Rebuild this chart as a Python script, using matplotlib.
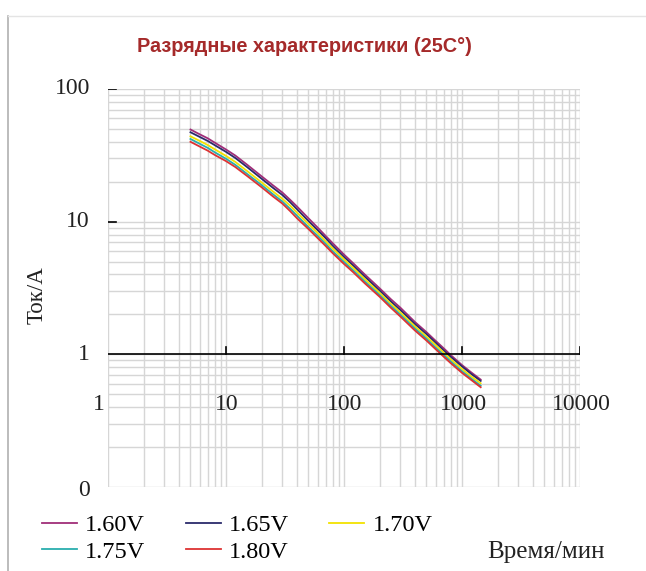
import matplotlib
matplotlib.use("Agg")
from matplotlib import pyplot as plt
from matplotlib.lines import Line2D

# discharge time, min
time_min = [5, 6, 7, 8, 10, 12, 15, 20, 25, 30, 35, 40, 50, 60, 70, 80,
            100, 120, 150, 200, 250, 300, 400, 500, 600, 700, 800, 1000, 1200, 1440]

# current, A (end voltage series)
cur_160 = [49.5, 45.5, 42.5, 39.5, 35.0, 31.5, 27.0, 22.0, 18.8, 16.6, 14.6, 13.0, 10.6, 9.0, 7.8, 6.9,
           5.65, 4.85, 4.0, 3.15, 2.6, 2.25, 1.75, 1.47, 1.26, 1.11, 0.99, 0.83, 0.73, 0.645]
cur_165 = [47.2, 43.5, 40.6, 37.8, 33.6, 30.2, 25.9, 21.1, 18.0, 15.9, 14.0, 12.4, 10.1, 8.6, 7.5, 6.6,
           5.42, 4.66, 3.85, 3.03, 2.5, 2.16, 1.69, 1.42, 1.22, 1.07, 0.96, 0.81, 0.71, 0.63]
cur_170 = [44.0, 40.6, 37.8, 35.2, 31.3, 28.2, 24.2, 19.8, 16.9, 14.9, 13.2, 11.7, 9.6, 8.2, 7.1, 6.3,
           5.2, 4.47, 3.69, 2.91, 2.4, 2.07, 1.62, 1.36, 1.17, 1.03, 0.92, 0.775, 0.68, 0.605]
cur_175 = [42.0, 38.6, 36.0, 33.4, 29.8, 26.8, 23.0, 18.9, 16.1, 14.2, 12.5, 11.1, 9.1, 7.8, 6.8, 6.0,
           4.97, 4.28, 3.54, 2.8, 2.31, 1.99, 1.56, 1.31, 1.12, 0.99, 0.885, 0.745, 0.655, 0.58]
cur_180 = [40.0, 36.8, 34.3, 31.9, 28.6, 25.8, 22.2, 18.2, 15.5, 13.7, 12.0, 10.6, 8.8, 7.5, 6.55, 5.8,
           4.8, 4.15, 3.43, 2.72, 2.24, 1.93, 1.51, 1.27, 1.09, 0.96, 0.86, 0.725, 0.64, 0.565]

series = [("1.60V", cur_160, "#a02e78"),
          ("1.65V", cur_165, "#2b2b6b"),
          ("1.70V", cur_170, "#f2e200"),
          ("1.75V", cur_175, "#2aaeae"),
          ("1.80V", cur_180, "#dd3333")]

x_ticks = [1, 10, 100, 1000, 10000]
x_tick_labels = ["1", "10", "100", "1000", "10000"]
y_ticks = [100, 10, 1, 0.1]
y_tick_labels = ["100", "10", "1", "0"]

serif = "Liberation Serif"

fig = plt.figure(figsize=(6.46, 5.71), dpi=100)
ax = fig.add_axes([108 / 646, 1 - 487 / 571, 472 / 646, 398 / 571])
ax.set_xscale("log")
ax.set_yscale("log")
ax.set_xlim(1, 10000)
ax.set_ylim(0.1, 100)
ax.grid(True, which="both", color="#d6d6d6", lw=1.0)
ax.set_axisbelow(True)
for s in ax.spines.values():
    s.set_visible(False)
ax.tick_params(which="both", length=0, labelleft=False, labelbottom=False)

handles = {}
for name, vals, col in series:
    handles[name], = ax.plot(time_min, vals, color=col, lw=1.3, label=name)

# x axis drawn at 1 A
ax.axhline(1, color="black", lw=1.2)
for xt in x_ticks[1:]:
    ax.plot([xt, xt], [1, 1.14], color="black", lw=1.2)
for yt in y_ticks[:2]:
    ax.plot([1, 1.17], [yt, yt], color="black", lw=1.2)

for yt, lab in zip(y_ticks, y_tick_labels):
    dy = -3 if yt == 0.1 else 0
    ax.annotate(lab, (1, yt), xytext=(-18, dy), textcoords="offset pixels",
                ha="right", va="center", fontsize=17, family=serif,
                color="#222222", annotation_clip=False)
for xt, lab in zip(x_ticks, x_tick_labels):
    dx = -9 if xt == 1 else 1
    ax.annotate(lab, (xt, 1), xytext=(dx, -50), textcoords="offset pixels",
                ha="center", va="center", fontsize=17, family=serif,
                color="#222222", annotation_clip=False)

fig.text(304 / 646, 1 - 47 / 571, "Разрядные характеристики (25C°)",
         ha="center", va="center", fontsize=14.3, fontweight="bold",
         family="Liberation Sans", color="#a52a2a")
fig.text(37 / 646, 1 - 295 / 571, "Ток/А", rotation=90, ha="center", va="center",
         fontsize=16.5, family=serif, color="#222222")
fig.text(546 / 646, 1 - 552 / 571, "Время/мин", ha="center", va="center",
         fontsize=18, family=serif, color="#222222")

order = ["1.60V", "1.75V", "1.65V", "1.80V", "1.70V"]
fig.legend([handles[n] for n in order], order, ncol=3, frameon=False,
           loc="upper left", bbox_to_anchor=(42 / 646, 1 - 514 / 571),
           prop={"family": serif, "size": 17.5}, handlelength=1.45, handletextpad=0.33,
           columnspacing=1.65, labelspacing=0.2, borderpad=0, borderaxespad=0)

# page frame
fig.add_artist(Line2D([8 / 646, 8 / 646], [0, 1 - 16 / 571], transform=fig.transFigure,
                      color="#b0b0b0", lw=1.2))
fig.add_artist(Line2D([8 / 646, 1], [1 - 16 / 571, 1 - 16 / 571], transform=fig.transFigure,
                      color="#e4e4e4", lw=1.0))

fig.savefig("out.png", dpi=100)
